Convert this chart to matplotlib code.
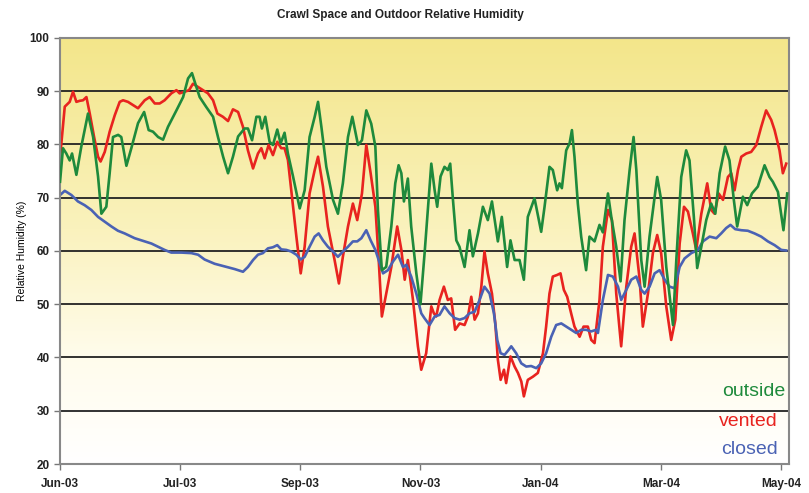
import numpy as np
import matplotlib
matplotlib.use("Agg")
import matplotlib.pyplot as plt
from matplotlib.colors import LinearSegmentedColormap

# days counted from the Jun-03 tick
outside_day = [0, 1.5, 3.2, 4.9, 6.1, 8.3, 10.8, 14.2, 16.8, 19.3, 21.0, 23.5, 25.2, 26.9, 29.5,
               31.1, 33.7, 36.2, 39.6, 42.7, 45.0, 47.2, 49.8, 52.3, 54.8, 59.1, 62.5, 65.0, 67.0,
               68.7, 70.9, 74.3, 77.7, 80.2, 82.8, 85.3, 87.8, 90.4, 93.7, 95.4, 97.5, 99.7, 101.3,
               102.5, 104.2, 106.4, 108.1, 110.3, 112.0, 114.0, 115.7, 118.3, 121.7, 124.2, 126.7,
               129.3, 131.0, 132.7, 135.2, 138.6, 141.1, 143.6, 146.2, 148.4, 151.3, 153.3, 155.5,
               158.0, 160.1, 161.4, 163.4, 165.6, 168.2, 170.2, 171.9, 173.3, 174.6, 176.6, 178.3,
               180.9, 183.0, 185.1, 188.5, 190.2, 191.5, 193.2, 195.2, 196.9, 198.1, 199.5, 201.2,
               202.8, 205.4, 207.9, 209.6, 212.2, 214.7, 217.2, 219.3, 222.3, 224.3, 227.0, 228.7,
               230.8, 233.3, 235.5, 237.5, 240.9, 244.3, 246.0, 248.5, 250.2, 252.4, 253.6, 254.8,
               257.0, 258.7, 259.9, 261.2, 262.9, 264.6, 267.1, 268.8, 271.4, 273.9, 275.6, 278.2,
               279.9, 282.4, 284.6, 286.6, 289.2, 291.2, 292.6, 295.1, 296.8, 299.3, 303.2, 305.2,
               307.8, 311.2, 312.9, 315.4, 317.9, 319.6, 321.8, 323.5, 325.6, 328.1, 330.6, 332.7,
               334.9, 337.7, 339.9, 342.1, 343.8, 346.7, 348.9, 351.3, 354.3, 357.7, 360.2, 361.9,
               364.5, 367.3, 369.2]
outside_rh = [73, 79.3, 78.3, 77, 78.3, 74.3, 79.6, 85.8, 81.4, 74, 67, 68.3, 74.6, 81.4, 81.8,
              81.4, 76, 79.3, 84, 86.1, 82.7, 82.4, 81.4, 80.9, 83.3, 86.4, 88.9, 92.4, 93.4,
              91.4, 88.9, 87, 85.2, 81.4, 77.7, 74.6, 77.7, 81.5, 83, 83, 80.8, 85.2, 85.2,
              83, 85.2, 80.5, 79.9, 82.8, 80.2, 82.2, 78.3, 74, 68, 71.4, 81.4,
              85.2, 88, 83.3, 75.8, 69.6, 67, 72.7, 81.4, 85.2, 79.9, 80.8, 86.4,
              83.9, 79.6, 67.7, 56.4, 57, 64.6, 72.7, 76.1, 74.6, 69.3, 73.6, 64.6,
              55.8, 50, 59.6, 76.4, 71.4, 68.3, 74, 75.8, 75.2, 76.4, 69.6, 62,
              60.8, 57, 63.9, 59, 63.3, 68.3, 65.8, 69.3, 61.8, 66.4, 57, 62,
              58.3, 58.3, 54.6, 66.4, 69.9, 63.6, 68.3, 75.8, 75.2, 71.4, 72.7, 71.8,
              78.9, 80.2, 82.7, 77.7, 68.9, 62.7, 56.4, 62.7, 61.8, 64.9, 63.5, 70.8,
              66.4, 60.8, 54.3, 65.8, 75.2, 81.4, 75.2, 58.3, 53.3, 62.7, 73.9, 69.6,
              57, 46.1, 58.3, 73.9, 78.9, 77, 66.4, 56.8, 60.8, 65.8, 68.9, 67,
              74.6, 79.6, 77, 69.6, 64.6, 70.2, 68.6, 70.8, 72.1, 76.1, 73.9, 73,
              71.1, 63.9, 70.8]

vented_day = [0, 2.4, 4.9, 6.6, 8.3, 10.0, 11.7, 13.4, 15.1, 17.3, 19.3, 20.6, 22.7, 25.2, 27.8,
              30.3, 32.0, 34.5, 37.1, 39.6, 43.0, 45.5, 48.1, 50.6, 53.1, 56.5, 59.1, 60.7, 63.3,
              65.5, 67.5, 70.0, 72.6, 75.1, 77.7, 79.9, 82.7, 85.3, 87.8, 90.4, 92.9, 95.4, 98.0,
              100.5, 102.2, 103.9, 105.9, 108.1, 110.3, 112.3, 114.0, 115.7, 117.4, 120.0, 122.2,
              124.2, 126.7, 129.3, 131.0, 133.5, 136.0, 139.4, 141.6, 143.6, 146.2, 148.7, 150.9,
              153.3, 155.5, 157.7, 160.1, 161.8, 163.4, 165.6, 168.2, 171.2, 173.3, 175.0, 176.6,
              179.2, 181.7, 183.4, 185.9, 188.5, 189.8, 191.0, 192.7, 194.9, 196.9, 198.6, 200.6,
              202.9, 205.4, 207.1, 208.8, 210.5, 212.2, 213.9, 215.5, 217.2, 219.3, 221.0, 222.3,
              223.7, 225.4, 226.5, 228.7, 230.8, 232.5, 234.2, 235.5, 237.5, 240.1, 242.6, 245.2,
              246.8, 248.5, 250.2, 252.4, 254.1, 255.8, 257.5, 259.5, 261.2, 263.8, 265.8, 268.0,
              269.7, 271.4, 273.9, 275.6, 278.2, 280.2, 282.4, 284.9, 287.5, 290.0, 291.7, 294.3,
              295.9, 298.5, 301.0, 303.2, 305.2, 307.8, 310.3, 312.4, 314.6, 316.8, 318.8, 321.3,
              323.0, 325.6, 328.6, 330.6, 332.3, 334.4, 336.6, 339.1, 340.8, 342.5, 344.2, 345.9,
              348.4, 350.9, 353.5, 356.0, 358.5, 361.1, 362.8, 365.3, 367.0, 368.7]
vented_rh = [77.5, 87.1, 88, 89.9, 88, 88.2, 88.3, 88.9, 85.8, 81.4, 77.7, 76.8, 78.6, 82.4, 85.5,
             88, 88.3, 88, 87.4, 86.8, 88.3, 88.9, 87.7, 87.7, 88.3, 89.6, 90.2, 89.6, 89.9,
             90.2, 91.4, 90.8, 90.2, 89.6, 88.3, 85.8, 85.2, 84.4, 86.6, 86.1, 83.3, 78.9, 75.5,
             78.3, 79.3, 77.4, 79.9, 78, 80.5, 79.3, 79.3, 77.1, 71.4, 62.7, 55.8,
             60.8, 70.8, 75.2, 77.7, 72.1, 64.6, 58.3, 53.9, 58.9, 64.6, 68.9, 65.8,
             70.8, 79.9, 74.6, 68.3, 58.3, 47.7, 52, 57, 64.6, 60.2, 54.6, 58.3,
             50.8, 42.1, 37.7, 40.8, 49.6, 48.3, 47.7, 50.8, 53.3, 50.8, 51.1, 45.2,
             46.4, 46.1, 47.7, 51.4, 47.1, 48.3, 53.3, 59.9, 55.8, 52, 46.4, 39.6,
             35.8, 37.7, 35.2, 40.2, 38.3, 37.1, 35.5, 32.7, 35.8, 36.4, 37.1, 40.8,
             45.8, 52, 55.2, 55.5, 55.8, 52.7, 51.4, 48.3, 45.8, 43.9, 45.8, 45.8,
             43.3, 42.7, 50.8, 60.8, 67.7, 65.8, 52, 42.1, 53.3, 60.8, 63.3, 54.6,
             45.8, 52, 59.6, 63, 59.6, 49.6, 43.3, 47.1, 61.4, 68.3, 67.4, 63.3,
             60.2, 67, 72.7, 67.7, 67, 70.8, 69.6, 73.9, 74.6, 71.4, 75.2, 77.7,
             78.3, 78.6, 79.9, 83.3, 86.4, 84.6, 82.7, 78.9, 74.6, 76.4]

closed_day = [0, 2.4, 5.8, 9.1, 12.5, 15.9, 19.3, 22.7, 26.1, 29.4, 32.8, 37.9, 43.0, 46.4, 49.8,
              53.1, 56.5, 61.6, 66.7, 70.1, 73.4, 78.5, 83.6, 88.7, 92.9, 95.4, 98.0, 100.5, 103.0,
              105.6, 108.1, 110.3, 112.3, 114.9, 117.4, 120.0, 122.2, 124.2, 126.7, 129.3, 131.3,
              133.5, 136.0, 138.6, 141.1, 143.6, 146.2, 148.7, 150.9, 153.0, 155.5, 157.7, 160.1,
              162.3, 164.0, 166.5, 169.0, 171.6, 174.1, 175.8, 178.3, 180.9, 183.4, 185.0, 187.6,
              190.2, 192.7, 195.2, 197.8, 200.3, 202.9, 205.4, 207.9, 210.5, 213.0, 215.5, 218.1,
              220.3, 222.0, 223.7, 225.7, 227.7, 229.1, 231.6, 234.2, 236.7, 239.2, 241.8, 244.3,
              246.8, 249.4, 251.9, 254.5, 257.0, 259.5, 262.1, 264.6, 267.1, 269.7, 272.2, 273.1,
              275.6, 278.2, 280.7, 283.3, 284.9, 287.5, 290.0, 292.6, 295.1, 296.8, 299.3, 301.9,
              304.4, 307.0, 309.5, 312.0, 314.6, 317.1, 320.5, 323.9, 326.4, 329.8, 333.2, 335.7,
              338.2, 340.4, 342.8, 345.9, 349.2, 352.6, 356.0, 359.4, 362.8, 366.2, 368.7]
closed_rh = [70.5, 71.3, 70.5, 69.3, 68.6, 67.7, 66.4, 65.5, 64.6, 63.8, 63.3, 62.4, 61.8, 61.4, 60.8,
             60.2, 59.7, 59.7, 59.6, 59.3, 58.4, 57.6, 57.1, 56.6, 56.1, 57, 58.3, 59.3, 59.6,
             60.5, 60.7, 61.1, 60.3, 60.2, 59.9, 59.3, 58.4, 58.9, 60.8, 62.7, 63.3,
             62, 60.8, 59.9, 58.9, 59.9, 60.8, 61.8, 61.8, 62.4, 63.9, 62, 60.2,
             57.7, 55.8, 56.4, 58, 59.3, 57, 57.4, 55.2, 52, 48.3, 47.4, 46.1,
             47.7, 48, 49.6, 48.3, 47.4, 47.1, 47.4, 48.3, 48.6, 50.8, 53.3, 52,
             48.3, 43.3, 40.8, 40.5, 41.4, 42.1, 40.8, 38.9, 38.3, 38.4, 38, 38.9,
             40.8, 43.9, 46.1, 46.4, 45.8, 45.2, 44.6, 45.2, 45.2, 44.9, 45.2, 44.6,
             50.8, 55.5, 55.2, 53.3, 50.8, 52.7, 54.6, 55.2, 52.7, 52, 53.3, 55.8,
             56.4, 54.6, 53.3, 53, 57, 58.6, 59.6, 60.2, 61.8, 62.7, 62.4, 63.3,
             64.3, 64.9, 64.1, 63.9, 63.8, 63.3, 62.7, 61.8, 61.1, 60.2, 60.1]

tick_days = [0, 61, 122, 183, 244, 305, 366]
tick_labels = ["Jun-03", "Jul-03", "Sep-03", "Nov-03", "Jan-04", "Mar-04", "May-04"]

sans = ["Liberation Sans", "DejaVu Sans"]

fig = plt.figure(figsize=(8.09, 4.93), dpi=100)
ax = fig.add_axes([0.0742, 0.0588, 0.9008, 0.8642])
ax.set_xlim(0, 370)
ax.set_ylim(20, 100)

# yellow-to-white background
bg = LinearSegmentedColormap.from_list(
    "bg", [(0.0, "#ffffff"), (0.25, "#fffcec"), (0.55, "#faf2bd"), (1.0, "#f3e68a")])
grad = np.linspace(0, 1, 256).reshape(-1, 1)
ax.imshow(grad, cmap=bg, aspect="auto", origin="lower",
          extent=[0, 370, 20, 100], zorder=0)

for v in range(30, 100, 10):
    ax.axhline(v, color="#222222", lw=1.3, zorder=1)

ax.plot(outside_day, outside_rh, color="#1e8a3c", lw=1.9, zorder=3)
ax.plot(vented_day, vented_rh, color="#e8231f", lw=1.9, zorder=2)
ax.plot(closed_day, closed_rh, color="#4a62b4", lw=1.9, zorder=2)

ax.set_xticks(tick_days)
ax.set_xticklabels(tick_labels)
ax.set_yticks(range(20, 101, 10))
for lab in ax.get_xticklabels() + ax.get_yticklabels():
    lab.set_family(sans)
    lab.set_fontweight("bold")
    lab.set_fontsize(8.5)
    lab.set_color("#222222")
ax.tick_params(axis="both", direction="out", length=4, color="#777777", width=1)
ax.tick_params(axis="x", pad=6)
for s in ax.spines.values():
    s.set_color("#888888")
    s.set_linewidth(1.5)

ax.set_ylabel("Relative Humidity (%)", family=sans, fontsize=7.5, labelpad=2)
fig.text(0.495, 0.97, "Crawl Space and Outdoor Relative Humidity", ha="center", va="center",
         family=sans, fontweight="bold", fontsize=8.5, color="#222222")

ax.text(0.995, 0.17, "outside", transform=ax.transAxes, ha="right", va="center",
        fontsize=14, color="#1e8a3c", family="Liberation Sans")
ax.text(0.985, 0.10, "vented", transform=ax.transAxes, ha="right", va="center",
        fontsize=14, color="#e8231f", family="Liberation Sans")
ax.text(0.985, 0.035, "closed", transform=ax.transAxes, ha="right", va="center",
        fontsize=14, color="#4a62b4", family="Liberation Sans")

fig.savefig("out.png", dpi=100)
